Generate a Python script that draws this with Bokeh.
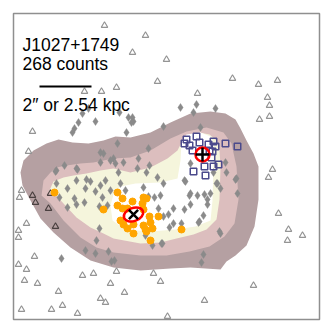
from bokeh.plotting import figure
from bokeh.models import Range1d, Label
from bokeh.embed import file_html
from bokeh.resources import INLINE

# ---- data (image-pixel coordinates) ----
outer_x = [20, 23, 33, 46, 58, 72, 88, 103, 115, 130, 150, 170, 190, 210, 225, 235, 240, 246, 253, 258, 258, 254, 246, 235, 226, 220, 190, 170, 140, 113, 90, 70, 53, 40, 30, 22]
outer_y = [172, 160, 150, 143, 139, 142, 143, 140, 136, 137, 132, 122, 113, 111, 113, 119, 128, 140, 153, 166, 199, 226, 245, 255, 261, 269, 267, 268, 270, 267, 260, 247, 232, 218, 200, 185]

mid_x = [41, 43, 50, 56, 66, 80, 93, 103, 113, 130, 150, 170, 186, 206, 223, 231, 234, 236, 238, 234, 224, 209, 189, 166, 140, 113, 96, 80, 63, 50]
mid_y = [195, 180, 172, 167, 165, 163, 162, 160, 158, 157, 150, 138, 131, 127, 132, 143, 157, 166, 199, 223, 236, 246, 251, 255, 255, 252, 247, 237, 220, 203]

inner_x = [48, 53, 63, 73, 86, 100, 113, 130, 150, 167, 177, 182, 188, 199, 209, 216, 219, 220, 219, 216, 206, 193, 176, 160, 140, 113, 103, 90, 76, 63, 53]
inner_y = [192, 181, 177, 175, 173, 170, 168, 172, 167, 158, 150, 140, 135, 132, 134, 140, 150, 166, 199, 219, 229, 234, 238, 242, 243, 238, 233, 227, 217, 203, 192]

core_x = [110, 113, 120, 135, 160, 177, 180, 181, 186, 200, 210, 213, 213, 212, 210, 195, 175, 150, 125, 112]
core_y = [205, 194, 186, 183, 182, 178, 160, 140, 134, 132, 136, 145, 166, 200, 220, 226, 229, 231, 229, 220]

tri_x = [104, 145, 132, 166, 157, 116, 84, 101, 197, 232, 258, 277, 267, 269, 259, 269, 32, 28,
         21, 19, 26, 18, 18, 34, 18, 26, 24, 37, 58, 21, 51, 62, 77, 82, 93, 116, 110, 124, 100, 105,
         153, 160, 204, 167, 253, 287, 302, 288, 278, 272, 268]
tri_y = [25, 35, 52, 59, 81, 87, 91, 91, 93, 78, 84, 80, 97, 105, 119, 116, 131, 151,
         190, 197, 223, 230, 237, 256, 264, 269, 280, 283, 291, 309, 309, 305, 313, 275, 273, 271, 283, 292, 298, 302,
         273, 281, 300, 316, 285, 240, 235, 229, 213, 169, 177]

dtri_x = [32, 35, 48, 55, 50]
dtri_y = [195, 202, 208, 226, 193]

dia_x = [82, 78, 74, 72, 95, 88, 119, 132, 133, 180, 196, 126, 163, 117, 113, 115, 123, 118, 138, 137, 149, 146, 157, 163,
         120, 125, 143, 148, 160, 184, 189, 210, 148, 215, 193, 200, 190, 225, 226, 213, 236, 217, 220, 237,
         185, 190, 197, 204, 207, 207, 173, 184, 168, 203, 173, 169, 181, 199, 235, 216, 219, 203, 201,
         154, 158, 163, 198, 190, 162, 114, 100, 103, 100, 110, 56, 64, 76, 86, 90, 76, 56, 67, 85, 95, 100, 105, 110,
         102, 59, 55, 77, 74, 76, 84, 67, 99, 107, 99, 96, 85, 95, 108, 111, 61, 145, 152, 161, 220, 128, 131]
dia_y = [113, 122, 128, 132, 121, 108, 112, 117, 121, 107, 104, 132, 126, 143, 158, 163, 162, 172, 158, 168, 165, 172, 177, 183,
         183, 190, 187, 196, 195, 180, 195, 193, 148, 108, 112, 127, 163, 162, 172, 172, 178, 183, 188, 193,
         181, 193, 195, 194, 199, 204, 208, 209, 214, 215, 223, 227, 223, 221, 179, 183, 231, 254, 262,
         197, 208, 216, 222, 204, 243, 260, 152, 153, 162, 160, 170, 165, 168, 179, 181, 180, 183, 188, 188, 191, 185, 180, 190,
         197, 197, 171, 169, 198, 204, 202, 207, 206, 205, 228, 240, 250, 253, 251, 261, 258, 235, 245, 243, 233, 117, 122]

orange_x = [54, 103, 117, 122, 132, 143, 146, 142, 117, 122, 127, 143, 149, 158, 150, 143, 152, 145, 133, 123, 120, 127, 133, 150, 181, 146]
orange_y = [192, 209, 192, 198, 201, 197, 198, 203, 205, 208, 208, 209, 216, 216, 222, 225, 228, 229, 224, 224, 220, 228, 233, 240, 229, 231]

sq_x = [186, 196, 199, 189, 184, 192, 208, 213, 215, 209, 225, 237, 211, 212, 193, 205, 204, 213, 218]
sq_y = [139, 136, 142, 145, 143, 150, 144, 141, 146, 150, 143, 146, 157, 151, 171, 175, 166, 166, 164]

src1 = (202, 154)   # red circle + plus
src2 = (133, 214)   # red ellipse + cross

scalebar_x = [39, 91]
scalebar_y = [86, 86]

labels = ["J1027+1749", "268 counts", "2\u2033 or 2.54 kpc"]
label_y = [44.5, 63.5, 104]

# ---- figure ----
p = figure(width=324, height=324, output_backend="svg", toolbar_location=None,
           x_range=Range1d(13, 319), y_range=Range1d(319, 13),
           min_border_left=13, min_border_right=5, min_border_top=13, min_border_bottom=5)
p.axis.visible = False
p.grid.visible = False
p.outline_line_color = "#8f8f8f"
p.outline_line_width = 1.5
p.background_fill_color = "white"

p.patch(outer_x, outer_y, fill_color="#b5a0a2", line_color=None)
p.patch(mid_x, mid_y, fill_color="#dcbebe", line_color=None)
p.patch(inner_x, inner_y, fill_color="#f5f5dc", line_color=None)
p.patch(core_x, core_y, fill_color="white", line_color=None)

p.scatter(tri_x, tri_y, marker="triangle", size=6.5, fill_color=None, line_color="#949494", line_width=1.1)
p.scatter(dtri_x, dtri_y, marker="triangle", size=6.5, fill_color=None, line_color="#4a4040", line_width=1.1)
p.scatter(dia_x, dia_y, marker="diamond", size=8, fill_color="#8a8a8a", line_color="#8a8a8a", line_width=0.4)
p.scatter(orange_x, orange_y, marker="circle", size=7, fill_color="#ffa500", line_color="#ffa500")
p.scatter(sq_x, sq_y, marker="square", size=6.5, fill_color=None, line_color="#4b4a8c", line_width=1.5)

p.ellipse([src1[0]], [src1[1]], width=14, height=14, fill_color=None, line_color="red", line_width=2.5)
p.scatter([src1[0]], [src1[1]], marker="cross", size=14, line_color="black", line_width=2.5)
p.ellipse([src2[0]], [src2[1]], width=20, height=13, angle=0.35, fill_color=None, line_color="red", line_width=2.5)
p.scatter([src2[0]], [src2[1]], marker="x", size=13, line_color="black", line_width=2.5)

p.line(scalebar_x, scalebar_y, line_color="black", line_width=2)

for t, yy in zip(labels, label_y):
    p.add_layout(Label(x=22, y=yy, text=t, text_font="Liberation Sans", text_font_size="17.5px",
                       text_color="black", text_baseline="alphabetic", text_align="left"))

open("out.html", "w").write(file_html(p, INLINE))
